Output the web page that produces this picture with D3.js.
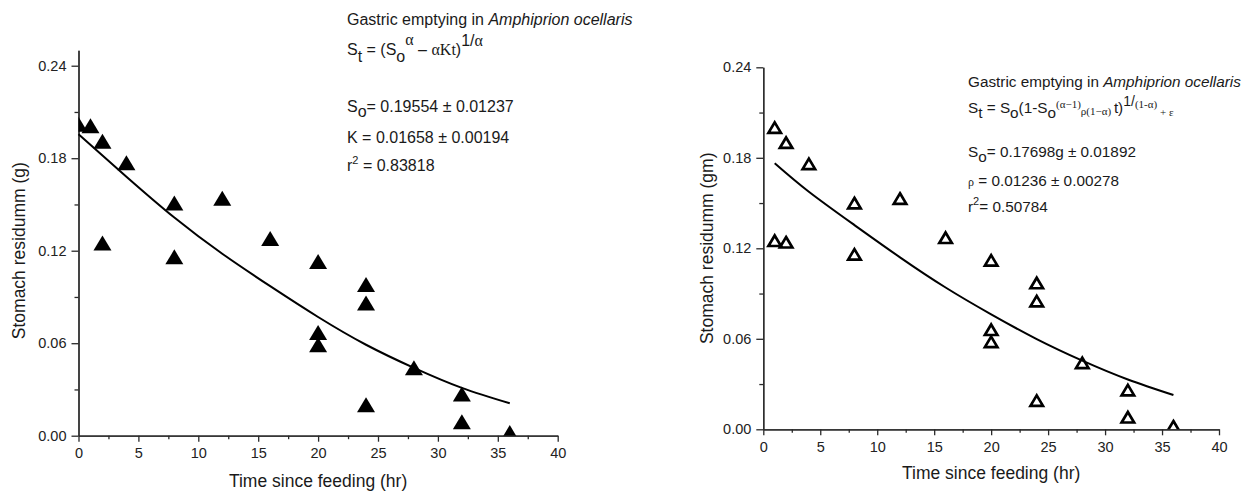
<!DOCTYPE html>
<meta charset="utf-8">
<style>
  body { margin: 0; background: #fff; }
  svg text { font-family: "Liberation Sans", Arial, sans-serif; fill: #1a1a1a; }
  .axis path, .axis line { fill: none; stroke: #2a2a2a; stroke-width: 1.3px; }
  .axis text { font-family: "Liberation Sans", Arial, sans-serif; font-size: 14.5px; fill: #222; }
</style>
<div id="chart"></div>
<script src="https://cdnjs.cloudflare.com/ajax/libs/d3/7.8.5/d3.min.js"></script>
<script>
// ---- data ----
var leftTime    = [0, 1, 2, 2, 4, 8, 8, 12, 16, 20, 20, 20, 24, 24, 24, 28, 32, 32, 36];
var leftResidue = [0.202, 0.201, 0.191, 0.125, 0.177, 0.151, 0.116, 0.154, 0.128, 0.113, 0.067, 0.059, 0.098, 0.086, 0.020, 0.044, 0.027, 0.009, 0.002];
var leftFitTime    = [0, 4, 8, 12, 16, 20, 24, 28, 32, 36];
var leftFitResidue = [0.1955, 0.168, 0.1415, 0.118, 0.097, 0.077, 0.059, 0.044, 0.031, 0.021];

var rightTime    = [1, 2, 1, 2, 4, 8, 8, 12, 16, 20, 20, 20, 24, 24, 24, 28, 32, 32, 36];
var rightResidue = [0.200, 0.190, 0.125, 0.124, 0.176, 0.150, 0.116, 0.153, 0.127, 0.112, 0.066, 0.058, 0.097, 0.085, 0.019, 0.044, 0.026, 0.008, 0.002];
var rightFitTime    = [1, 4, 8, 12, 16, 20, 24, 28, 32, 36];
var rightFitResidue = [0.1764, 0.1575, 0.1354, 0.114, 0.094, 0.0762, 0.0598, 0.0455, 0.033, 0.0227];

var xTicks = [0, 5, 10, 15, 20, 25, 30, 35, 40];
var xMinor = [2.5, 7.5, 12.5, 17.5, 22.5, 27.5, 32.5, 37.5];
var yTicks = [0, 0.06, 0.12, 0.18, 0.24];
var yMinor = [0.03, 0.09, 0.15, 0.21];

var xTitle = "Time since feeding (hr)";
var leftYTitle = "Stomach residumm (g)";
var rightYTitle = "Stomach residumm (gm)";

var svg = d3.select("#chart").append("svg")
    .attr("width", 1255)
    .attr("height", 493);

var SANS = '"Liberation Sans", Arial, sans-serif',
    SERIF = '"Liberation Serif", "Times New Roman", serif';

function triangle(w, h) {
  return "M0," + (-h / 2) + "L" + (w / 2) + "," + (h / 2) + "L" + (-w / 2) + "," + (h / 2) + "Z";
}

function panel(cfg) {
  var x = d3.scaleLinear().domain([0, 40]).range(cfg.xr);
  var y = d3.scaleLinear().domain([0, cfg.yMax]).range(cfg.yr);

  var clipId = "clip-" + cfg.id;
  svg.append("clipPath").attr("id", clipId)
    .append("rect")
    .attr("x", x(0)).attr("y", y(cfg.yMax) - 20)
    .attr("width", x(40) - x(0) + 10)
    .attr("height", y(0) - y(cfg.yMax) + 20);

  // axes
  svg.append("g").attr("class", "axis")
    .attr("transform", "translate(0," + y(0) + ")")
    .call(d3.axisBottom(x).tickValues(xMinor).tickSize(3.5).tickSizeOuter(0).tickFormat(""));
  svg.append("g").attr("class", "axis")
    .attr("transform", "translate(0," + y(0) + ")")
    .call(d3.axisBottom(x).tickValues(xTicks).tickSize(6).tickSizeOuter(0).tickPadding(cfg.xPad).tickFormat(d3.format("d")));

  svg.append("g").attr("class", "axis")
    .attr("transform", "translate(" + x(0) + ",0)")
    .call(d3.axisLeft(y).tickValues(yMinor).tickSize(4).tickSizeOuter(0).tickFormat(""));
  svg.append("g").attr("class", "axis")
    .attr("transform", "translate(" + x(0) + ",0)")
    .call(d3.axisLeft(y).tickValues(yTicks).tickSize(7).tickSizeOuter(0).tickPadding(5).tickFormat(d3.format(".2f")));

  // fitted curve
  var line = d3.line()
    .x(function(d, i) { return x(cfg.fitT[i]); })
    .y(function(d) { return y(d); })
    .curve(d3.curveNatural);
  svg.append("path")
    .attr("d", line(cfg.fitS))
    .attr("fill", "none")
    .attr("stroke", "#000")
    .attr("stroke-width", 2);

  // observations
  var pts = svg.append("g").attr("clip-path", "url(#" + clipId + ")");
  pts.selectAll("path")
    .data(cfg.s)
    .enter().append("path")
    .attr("transform", function(d, i) { return "translate(" + x(cfg.t[i]) + "," + y(d) + ")"; })
    .attr("d", cfg.filled ? triangle(18, 15) : triangle(12.5, 10.5))
    .attr("fill", cfg.filled ? "#000" : "none")
    .attr("stroke", "#000")
    .attr("stroke-width", cfg.filled ? 0 : 2.7)
    .attr("stroke-linejoin", "miter");

  // titles
  svg.append("text")
    .attr("x", (x(0) + x(40)) / 2)
    .attr("y", cfg.xTitleY)
    .attr("text-anchor", "middle")
    .style("font-size", "17.5px")
    .text(xTitle);

  svg.append("text")
    .attr("transform", "translate(" + cfg.yTitleX + "," + (y(0) + y(0.24)) / 2 + ") rotate(-90)")
    .attr("text-anchor", "middle")
    .style("font-size", "17.5px")
    .text(cfg.yTitle);
}

// rich text: segments [text, baseline offset, size, family, italic]
function rich(x, y, size, segs) {
  var t = svg.append("text").attr("x", x).attr("y", y).style("font-size", size + "px");
  var prev = 0;
  segs.forEach(function(s) {
    var off = s[1] || 0;
    t.append("tspan")
      .attr("dy", off - prev)
      .style("font-size", (s[2] || size) + "px")
      .style("font-family", s[3] === "serif" ? SERIF : SANS)
      .style("font-style", s[4] ? "italic" : "normal")
      .text(s[0]);
    prev = off;
  });
}

panel({
  id: "left", xr: [78.5, 557.7], yr: [435.7, 50.3], yMax: 0.25,
  t: leftTime, s: leftResidue, fitT: leftFitTime, fitS: leftFitResidue,
  filled: true, xPad: 6, xTitleY: 487, yTitleX: 25, yTitle: leftYTitle
});

panel({
  id: "right", xr: [763.3, 1219], yr: [429.3, 67.3], yMax: 0.24,
  t: rightTime, s: rightResidue, fitT: rightFitTime, fitS: rightFitResidue,
  filled: false, xPad: 6, xTitleY: 479, yTitleX: 713, yTitle: rightYTitle
});

// left annotation
rich(347, 25, 16, [["Gastric emptying in "], ["Amphiprion ocellaris", 0, 16, "sans", true]]);
rich(347, 55, 16, [["S"], ["t", 7], [" = (S", 0], ["o", 7], ["α", -10, 16, "serif"], [" – ", 0], ["αKt", 0, 16, "serif"], [")", 0], ["1/", -9], ["α", -9, 16, "serif"]]);
rich(347, 112, 16, [["S"], ["o", 5], ["= 0.19554 ± 0.01237", 0]]);
rich(347, 143, 16, [["K = 0.01658 ± 0.00194"]]);
rich(347, 171, 16, [["r"], ["2", -7, 11], [" = 0.83818", 0]]);

// right annotation
rich(968, 87, 15.3, [["Gastric emptying in "], ["Amphiprion ocellaris", 0, 15.3, "sans", true]]);
rich(968, 113, 15.3, [["S"], ["t", 5], [" = S", 0], ["o", 5], ["(1-S", 0], ["o", 5], ["(α−1)", -5, 11, "serif"], ["ρ(1−α) ", 2, 11, "serif"], ["t)", 0], ["1/", -7, 14], ["(1-α)", -5, 11, "serif"], [" + ε", 3, 11, "serif"]]);
rich(968, 157, 15.3, [["S"], ["o", 5], ["= 0.17698g ± 0.01892", 0]]);
rich(968, 186, 15.3, [["ρ", 0, 12, "serif"], [" = 0.01236 ± 0.00278", 0]]);
rich(968, 212, 15.3, [["r"], ["2", -7, 11], ["= 0.50784", 0]]);
</script>
